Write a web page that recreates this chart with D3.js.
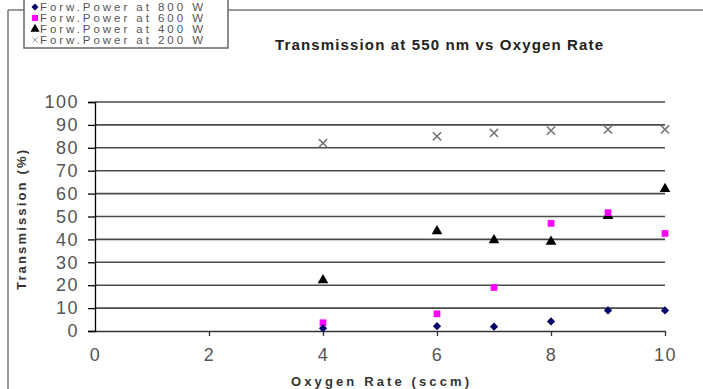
<!DOCTYPE html>
<html><head><meta charset="utf-8">
<script src="https://cdn.jsdelivr.net/npm/d3@7"></script>
<style>body{margin:0;background:#fff}svg{display:block;font-family:"Liberation Sans",Arial,sans-serif}</style>
</head><body>
<svg id="c" width="703" height="389"></svg>
<script>
const xValues = [4, 6, 7, 8, 9, 10];
const p800 = [1.2, 2.1, 1.9, 4.2, 9, 9];
const p600 = [3.6, 7.5, 19, 47, 51.7, 42.6];
const p400 = [22.2, 43.6, 39.7, 39, 50.3, 62];
const p200 = [82, 85, 86.5, 87.5, 88, 88];
const seriesNames = ["Forw.Power at 800 W", "Forw.Power at 600 W", "Forw.Power at 400 W", "Forw.Power at 200 W"];
const yTicks = [0,10,20,30,40,50,60,70,80,90,100];
const xTicks = [0,2,4,6,8,10];

const svg = d3.select("#c");
const x = d3.scaleLinear().domain([0,10]).range([95,665]);
const y = d3.scaleLinear().domain([0,100]).range([331,102]);

// outer frame
svg.append("line").attr("x1",8).attr("x2",703).attr("y1",10).attr("y2",10).attr("stroke","#777").attr("stroke-width",1.5);
svg.append("line").attr("x1",8).attr("x2",8).attr("y1",10).attr("y2",389).attr("stroke","#777").attr("stroke-width",1.5);

// gridlines
svg.append("g").selectAll("line").data(yTicks.slice(1)).join("line")
  .attr("x1",x(0)).attr("x2",x(10)).attr("y1",d=>y(d)).attr("y2",d=>y(d))
  .attr("stroke","#4a4a4a").attr("stroke-width",1.6);

// y axis
const ya = svg.append("g").attr("transform",`translate(${x(0)},0)`)
  .call(d3.axisLeft(y).tickValues(yTicks).tickSize(7).tickPadding(9));
ya.select(".domain").attr("stroke","#000").attr("stroke-width",1.3);
ya.selectAll(".tick line").attr("stroke","#000").attr("stroke-width",1.3);
ya.selectAll("text").attr("font-size",18).attr("fill","#555").attr("letter-spacing","1.5px").attr("font-family","Liberation Sans, Arial");

// x axis
const xa = svg.append("g").attr("transform",`translate(0,${y(0)})`)
  .call(d3.axisBottom(x).tickValues(xTicks).tickSize(5).tickSizeOuter(0).tickPadding(12));
xa.select(".domain").attr("stroke","#333").attr("stroke-width",1.6);
xa.selectAll(".tick line").attr("stroke","#333").attr("stroke-width",1.3);
xa.selectAll(".tick").filter(d=>d===0).select("line").remove();
xa.selectAll("text").attr("font-size",18).attr("fill","#555").attr("letter-spacing","1.5px").attr("font-family","Liberation Sans, Arial");

// titles
svg.append("text").attr("x",439).attr("y",50).attr("text-anchor","middle")
  .attr("font-size",15).attr("font-weight","bold").attr("fill","#222")
  .attr("textLength",328).attr("lengthAdjust","spacing")
  .text("Transmission at 550 nm vs Oxygen Rate");
svg.append("text").attr("transform","translate(26,220) rotate(-90)").attr("text-anchor","middle")
  .attr("font-size",13).attr("font-weight","bold").attr("fill","#333")
  .attr("textLength",140).attr("lengthAdjust","spacing")
  .text("Transmission (%)");
svg.append("text").attr("x",380).attr("y",386).attr("text-anchor","middle")
  .attr("font-size",13).attr("font-weight","bold").attr("fill","#333")
  .attr("textLength",178).attr("lengthAdjust","spacing")
  .text("Oxygen Rate (sccm)");

// markers
const diamond = d3.symbol().type(d3.symbolSquare).size(34);
const square = d3.symbol().type(d3.symbolSquare).size(45);
const tri = d3.symbol().type(d3.symbolTriangle).size(50);
const cross = d3.symbol().type(d3.symbolX).size(45);

function drawSeries(vals, gen, attrs, rot){
  const g = svg.append("g");
  const p = g.selectAll("path").data(vals).join("path")
    .attr("d",gen).attr("transform",(d,i)=>`translate(${x(xValues[i])},${y(d)}) rotate(${rot||0})`);
  for(const k in attrs) p.attr(k,attrs[k]);
}
drawSeries(p200, cross, {fill:"none",stroke:"#777","stroke-width":1.6});
drawSeries(p400, tri, {fill:"#000"});
drawSeries(p600, square, {fill:"#ff00ff"});
drawSeries(p800, diamond, {fill:"#000066"}, 45);

// legend
const lg = svg.append("g");
lg.append("rect").attr("x",24).attr("y",-2).attr("width",204).attr("height",50)
  .attr("fill","#fff").attr("stroke","#666").attr("stroke-width",1.5);
const legendSym = [
  {gen:diamond, attrs:{fill:"#000066"}, s:0.85, r:45},
  {gen:square, attrs:{fill:"#ff00ff"}, s:0.9, r:0},
  {gen:tri, attrs:{fill:"#000"}, s:0.85, r:0},
  {gen:cross, attrs:{fill:"none",stroke:"#777","stroke-width":1.2}, s:0.6, r:0}
];
seriesNames.forEach((name,i)=>{
  const yy = 7 + i*11;
  const sp = lg.append("path").attr("d",legendSym[i].gen)
    .attr("transform",`translate(35,${yy}) rotate(${legendSym[i].r}) scale(${legendSym[i].s})`);
  for(const k in legendSym[i].attrs) sp.attr(k,legendSym[i].attrs[k]);
  lg.append("text").attr("x",40).attr("y",yy+4).attr("font-size",11.5).attr("fill","#555")
    .attr("textLength",163).attr("lengthAdjust","spacing").text(name);
});
</script>
</body></html>
